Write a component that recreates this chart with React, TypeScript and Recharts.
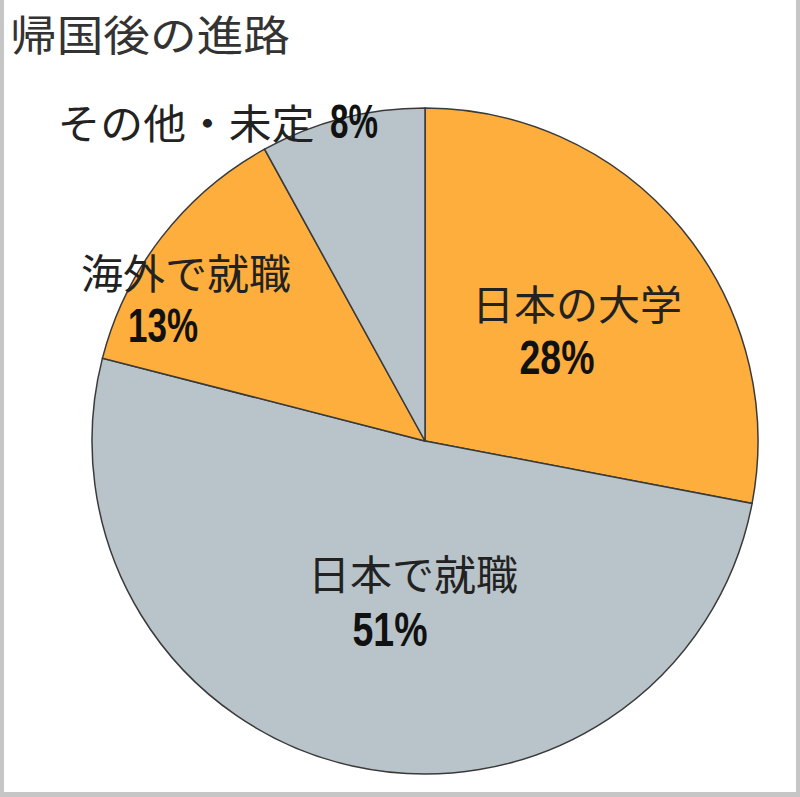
import * as React from "react"
import { Pie, PieChart, Cell } from "recharts"

// 帰国後の進路 (%)
const categories = ["日本の大学", "日本で就職", "海外で就職", "その他・未定"]
const shares = [28, 51, 13, 8]
const sliceColors = ["#FDAE3D", "#B8C4C9", "#FDAE3D", "#B8C4C9"]

const data = categories.map((name, i) => ({ name, value: shares[i] }))

// label placement relative to the pie centre (name, then percent)
const labelLayout = [
  { name: [152, -139, 210], pct: [132, -84, 75] },
  { name: [-12, 131, 210], pct: [-35, 188, 75] },
  { name: [-239, -170, 210], pct: [-262, -116, 70] },
  { name: [-239, -320, 257], pct: [-71, -320, 48] },
]

const jpFont = '"Noto Sans CJK JP", "Noto Sans", sans-serif'
const numFont = '"Liberation Sans", Arial, sans-serif'

function renderLabel(props: any) {
  const { cx, cy, index, name, value } = props
  const l = labelLayout[index]
  return (
    <g key={`lbl-${index}`}>
      <text
        x={cx + l.name[0]}
        y={cy + l.name[1]}
        textAnchor="middle"
        dominantBaseline="central"
        fontFamily={jpFont}
        fontSize={41}
        fill="#222"
        textLength={l.name[2]}
        lengthAdjust="spacingAndGlyphs"
      >
        {name}
      </text>
      <text
        x={cx + l.pct[0]}
        y={cy + l.pct[1]}
        textAnchor="middle"
        dominantBaseline="central"
        fontFamily={numFont}
        fontWeight="bold"
        fontSize={48}
        fill="#111"
        textLength={l.pct[2]}
        lengthAdjust="spacingAndGlyphs"
      >
        {`${value}%`}
      </text>
    </g>
  )
}

export default function App() {
  return (
    <div style={{ position: "absolute", left: 0, top: 0, width: 800, height: 797, background: "#fff" }}>
      <div
        style={{
          position: "absolute",
          left: 0,
          top: 0,
          width: 800,
          height: 797,
          boxSizing: "border-box",
          borderLeft: "4px solid #c6c6c6",
          borderRight: "4px solid #c6c6c6",
          borderBottom: "5px solid #c6c6c6",
        }}
      />
      <div style={{ position: "absolute", left: 0, top: 0 }}>
        <PieChart width={800} height={797} margin={{ top: 0, right: 0, bottom: 0, left: 0 }}>
          <text
            x={150}
            y={32}
            textAnchor="middle"
            dominantBaseline="central"
            fontFamily={jpFont}
            fontSize={42}
            fill="#333"
            textLength={280}
            lengthAdjust="spacingAndGlyphs"
          >
            帰国後の進路
          </text>
          <Pie
            data={data}
            dataKey="value"
            nameKey="name"
            cx={425}
            cy={441}
            outerRadius={333}
            startAngle={90}
            endAngle={-270}
            stroke="#3a3a3a"
            strokeWidth={1.5}
            labelLine={false}
            label={renderLabel}
            isAnimationActive={false}
          >
            {data.map((d, i) => (
              <Cell key={d.name} fill={sliceColors[i]} />
            ))}
          </Pie>
        </PieChart>
      </div>
    </div>
  )
}
